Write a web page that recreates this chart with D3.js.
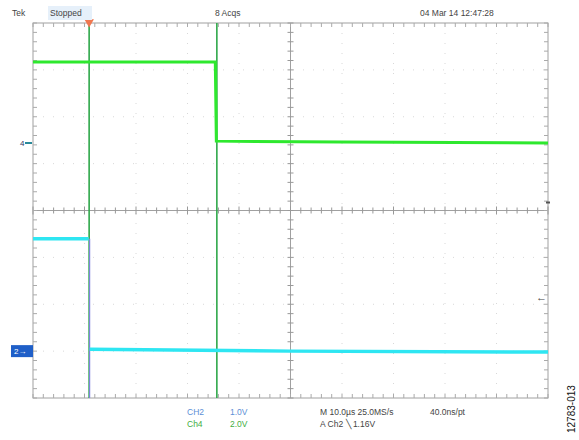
<!DOCTYPE html>
<html><head><meta charset="utf-8">
<script src="https://cdn.jsdelivr.net/npm/d3@7"></script>
<style>body{margin:0;background:#fff}svg{display:block}text{font-family:"Liberation Sans",Arial,sans-serif}</style>
</head><body><svg id="c" width="579" height="440"></svg>
<script>
// time in µs (10 µs/div, 10 divisions), voltages in V
const timeDomain = [0, 100];
const divisions = [-4, 4];
const ch4Time = [0, 35.4, 35.6, 60, 100];
const ch4Volts = [3.46, 3.46, 0.08, 0.04, 0.0];
const ch2Time = [0, 10.8, 11.0, 50, 100];
const ch2Volts = [2.4, 2.4, 0.04, 0.0, -0.02];
const ch4Scale = 2.0, ch4Offset = 1.44;   // V/div, ground position in div
const ch2Scale = 1.0, ch2Offset = -3.0;
const cursorTimes = [10.9, 35.7];
const triggerLevel = 1.16;
const headerLabels = ["Tek", "Stopped", "8 Acqs", "04 Mar 14 12:47:28"];
const chanLabels = [["CH2", "1.0V"], ["Ch4", "2.0V"]];
const timeLabels = ["M 10.0µs 25.0MS/s", "40.0ns/pt", "A  Ch2  \u2572  1.16V"];

const svg = d3.select("#c");
const L = 33, R = 548, T = 23, B = 398;
const x = d3.scaleLinear().domain(timeDomain).range([L, R]);
const yDiv = d3.scaleLinear().domain(divisions).range([B, T]);
const y4 = d3.scaleLinear().domain([(divisions[0]-ch4Offset)*ch4Scale, (divisions[1]-ch4Offset)*ch4Scale]).range([B, T]);
const y2 = d3.scaleLinear().domain([(divisions[0]-ch2Offset)*ch2Scale, (divisions[1]-ch2Offset)*ch2Scale]).range([B, T]);

// dotted grid
const g = svg.append("g");
d3.range(1, 10).forEach(i => { if (i !== 5) g.append("line").attr("x1", x(i*10)).attr("x2", x(i*10)).attr("y1", T).attr("y2", B).attr("stroke", "#d8d8d8").attr("stroke-dasharray", "1,9"); });
d3.range(-3, 4).forEach(i => { if (i !== 0) g.append("line").attr("y1", yDiv(i)).attr("y2", yDiv(i)).attr("x1", L).attr("x2", R).attr("stroke", "#d8d8d8").attr("stroke-dasharray", "1,9"); });
// frame
g.append("rect").attr("x", L).attr("y", T).attr("width", R-L).attr("height", B-T).attr("fill", "none").attr("stroke", "#a0a0a0").attr("stroke-width", 1);
// center cross
g.append("line").attr("x1", L).attr("x2", R).attr("y1", yDiv(0)).attr("y2", yDiv(0)).attr("stroke", "#a0a0a0");
g.append("line").attr("x1", x(50)).attr("x2", x(50)).attr("y1", T).attr("y2", B).attr("stroke", "#a0a0a0");
// minor ticks
const xMinor = d3.range(0, 101, 2), yMinor = d3.range(-4, 4.01, 0.2);
xMinor.forEach(t => {
  const len = t % 10 === 0 ? 4 : 3;
  g.append("line").attr("x1", x(t)).attr("x2", x(t)).attr("y1", yDiv(0)-len).attr("y2", yDiv(0)+len).attr("stroke", "#999");
  g.append("line").attr("x1", x(t)).attr("x2", x(t)).attr("y1", T).attr("y2", T+4).attr("stroke", "#aaa");
  g.append("line").attr("x1", x(t)).attr("x2", x(t)).attr("y1", B-4).attr("y2", B).attr("stroke", "#aaa");
});
yMinor.forEach(v => {
  g.append("line").attr("y1", yDiv(v)).attr("y2", yDiv(v)).attr("x1", x(50)-3).attr("x2", x(50)+3).attr("stroke", "#999");
  g.append("line").attr("y1", yDiv(v)).attr("y2", yDiv(v)).attr("x1", L).attr("x2", L+4).attr("stroke", "#aaa");
  g.append("line").attr("y1", yDiv(v)).attr("y2", yDiv(v)).attr("x1", R-4).attr("x2", R).attr("stroke", "#aaa");
});

// cursors
cursorTimes.forEach(t => svg.append("line").attr("x1", x(t)).attr("x2", x(t)).attr("y1", T).attr("y2", B).attr("stroke", "#2fa84a").attr("stroke-width", 1.6));
// ch2 falling edge (purple)
svg.append("line").attr("x1", x(ch2Time[1])+1).attr("x2", x(ch2Time[1])+1).attr("y1", y2(ch2Volts[1])).attr("y2", B).attr("stroke", "#8080e0").attr("stroke-width", 1.2);

// traces
const line4 = d3.line().x(d => x(d[0])).y(d => y4(d[1]));
const line2 = d3.line().x(d => x(d[0])).y(d => y2(d[1]));
svg.append("path").attr("d", line4(ch4Time.map((t, i) => [t, ch4Volts[i]]))).attr("fill", "none").attr("stroke", "#2ee82e").attr("stroke-width", 3);
svg.append("path").attr("d", line2(ch2Time.slice(0,2).map((t, i) => [t, ch2Volts[i]]))).attr("fill", "none").attr("stroke", "#2ee6f2").attr("stroke-width", 3.5);
svg.append("path").attr("d", line2(ch2Time.slice(2).map((t, i) => [t, ch2Volts[i+2]]))).attr("fill", "none").attr("stroke", "#2ee6f2").attr("stroke-width", 3.5);

// trigger position marker
svg.append("path").attr("d", d3.symbol(d3.symbolTriangle, 40)()).attr("transform", `translate(${x(cursorTimes[0])},${T-1}) rotate(180)`).attr("fill", "#f07850");
// trigger level marker
svg.append("text").attr("x", R-12).attr("y", y2(triggerLevel)+4).attr("font-size", 11).attr("fill", "#444").text("\u2190");
svg.append("line").attr("x1", R-2).attr("x2", R+2).attr("y1", yDiv(0)-8).attr("y2", yDiv(0)-8).attr("stroke", "#555").attr("stroke-width", 2);

// ground markers
svg.append("text").attr("x", 20).attr("y", y4(0)+3).attr("font-size", 8).attr("fill", "#336").text("4");
svg.append("path").attr("d", `M25,${y4(0)} L32,${y4(0)}`).attr("stroke", "#2a8a9a").attr("stroke-width", 2);
svg.append("rect").attr("x", 11).attr("y", y2(0)-6).attr("width", 22).attr("height", 12).attr("fill", "#1f5fc8");
svg.append("text").attr("x", 14).attr("y", y2(0)+3).attr("font-size", 8).attr("fill", "#fff").text("2\u2192");

// header
svg.append("rect").attr("x", 48).attr("y", 6).attr("width", 44).attr("height", 14).attr("fill", "#e6f0fa");
const hx = [12, 50, 215, 420];
headerLabels.forEach((s, i) => svg.append("text").attr("x", hx[i]).attr("y", 16).attr("font-size", 8.5).attr("fill", "#444").text(s));

// bottom readout
const cc = ["#5c8fd6", "#3fae3f"];
chanLabels.forEach((p, i) => {
  svg.append("text").attr("x", 187).attr("y", 415 + i*12).attr("font-size", 8.5).attr("fill", cc[i]).text(p[0]);
  svg.append("text").attr("x", 230).attr("y", 415 + i*12).attr("font-size", 8.5).attr("fill", cc[i]).text(p[1]);
});
svg.append("text").attr("x", 320).attr("y", 415).attr("font-size", 8.5).attr("fill", "#444").text(timeLabels[0]);
svg.append("text").attr("x", 430).attr("y", 415).attr("font-size", 8.5).attr("fill", "#444").text(timeLabels[1]);
svg.append("text").attr("x", 320).attr("y", 427).attr("font-size", 8.5).attr("fill", "#444").text(timeLabels[2]);

// figure id
svg.append("text").attr("transform", "translate(575,433) rotate(-90)").attr("font-size", 10).attr("fill", "#111").text("12783-013");
</script></body></html>
